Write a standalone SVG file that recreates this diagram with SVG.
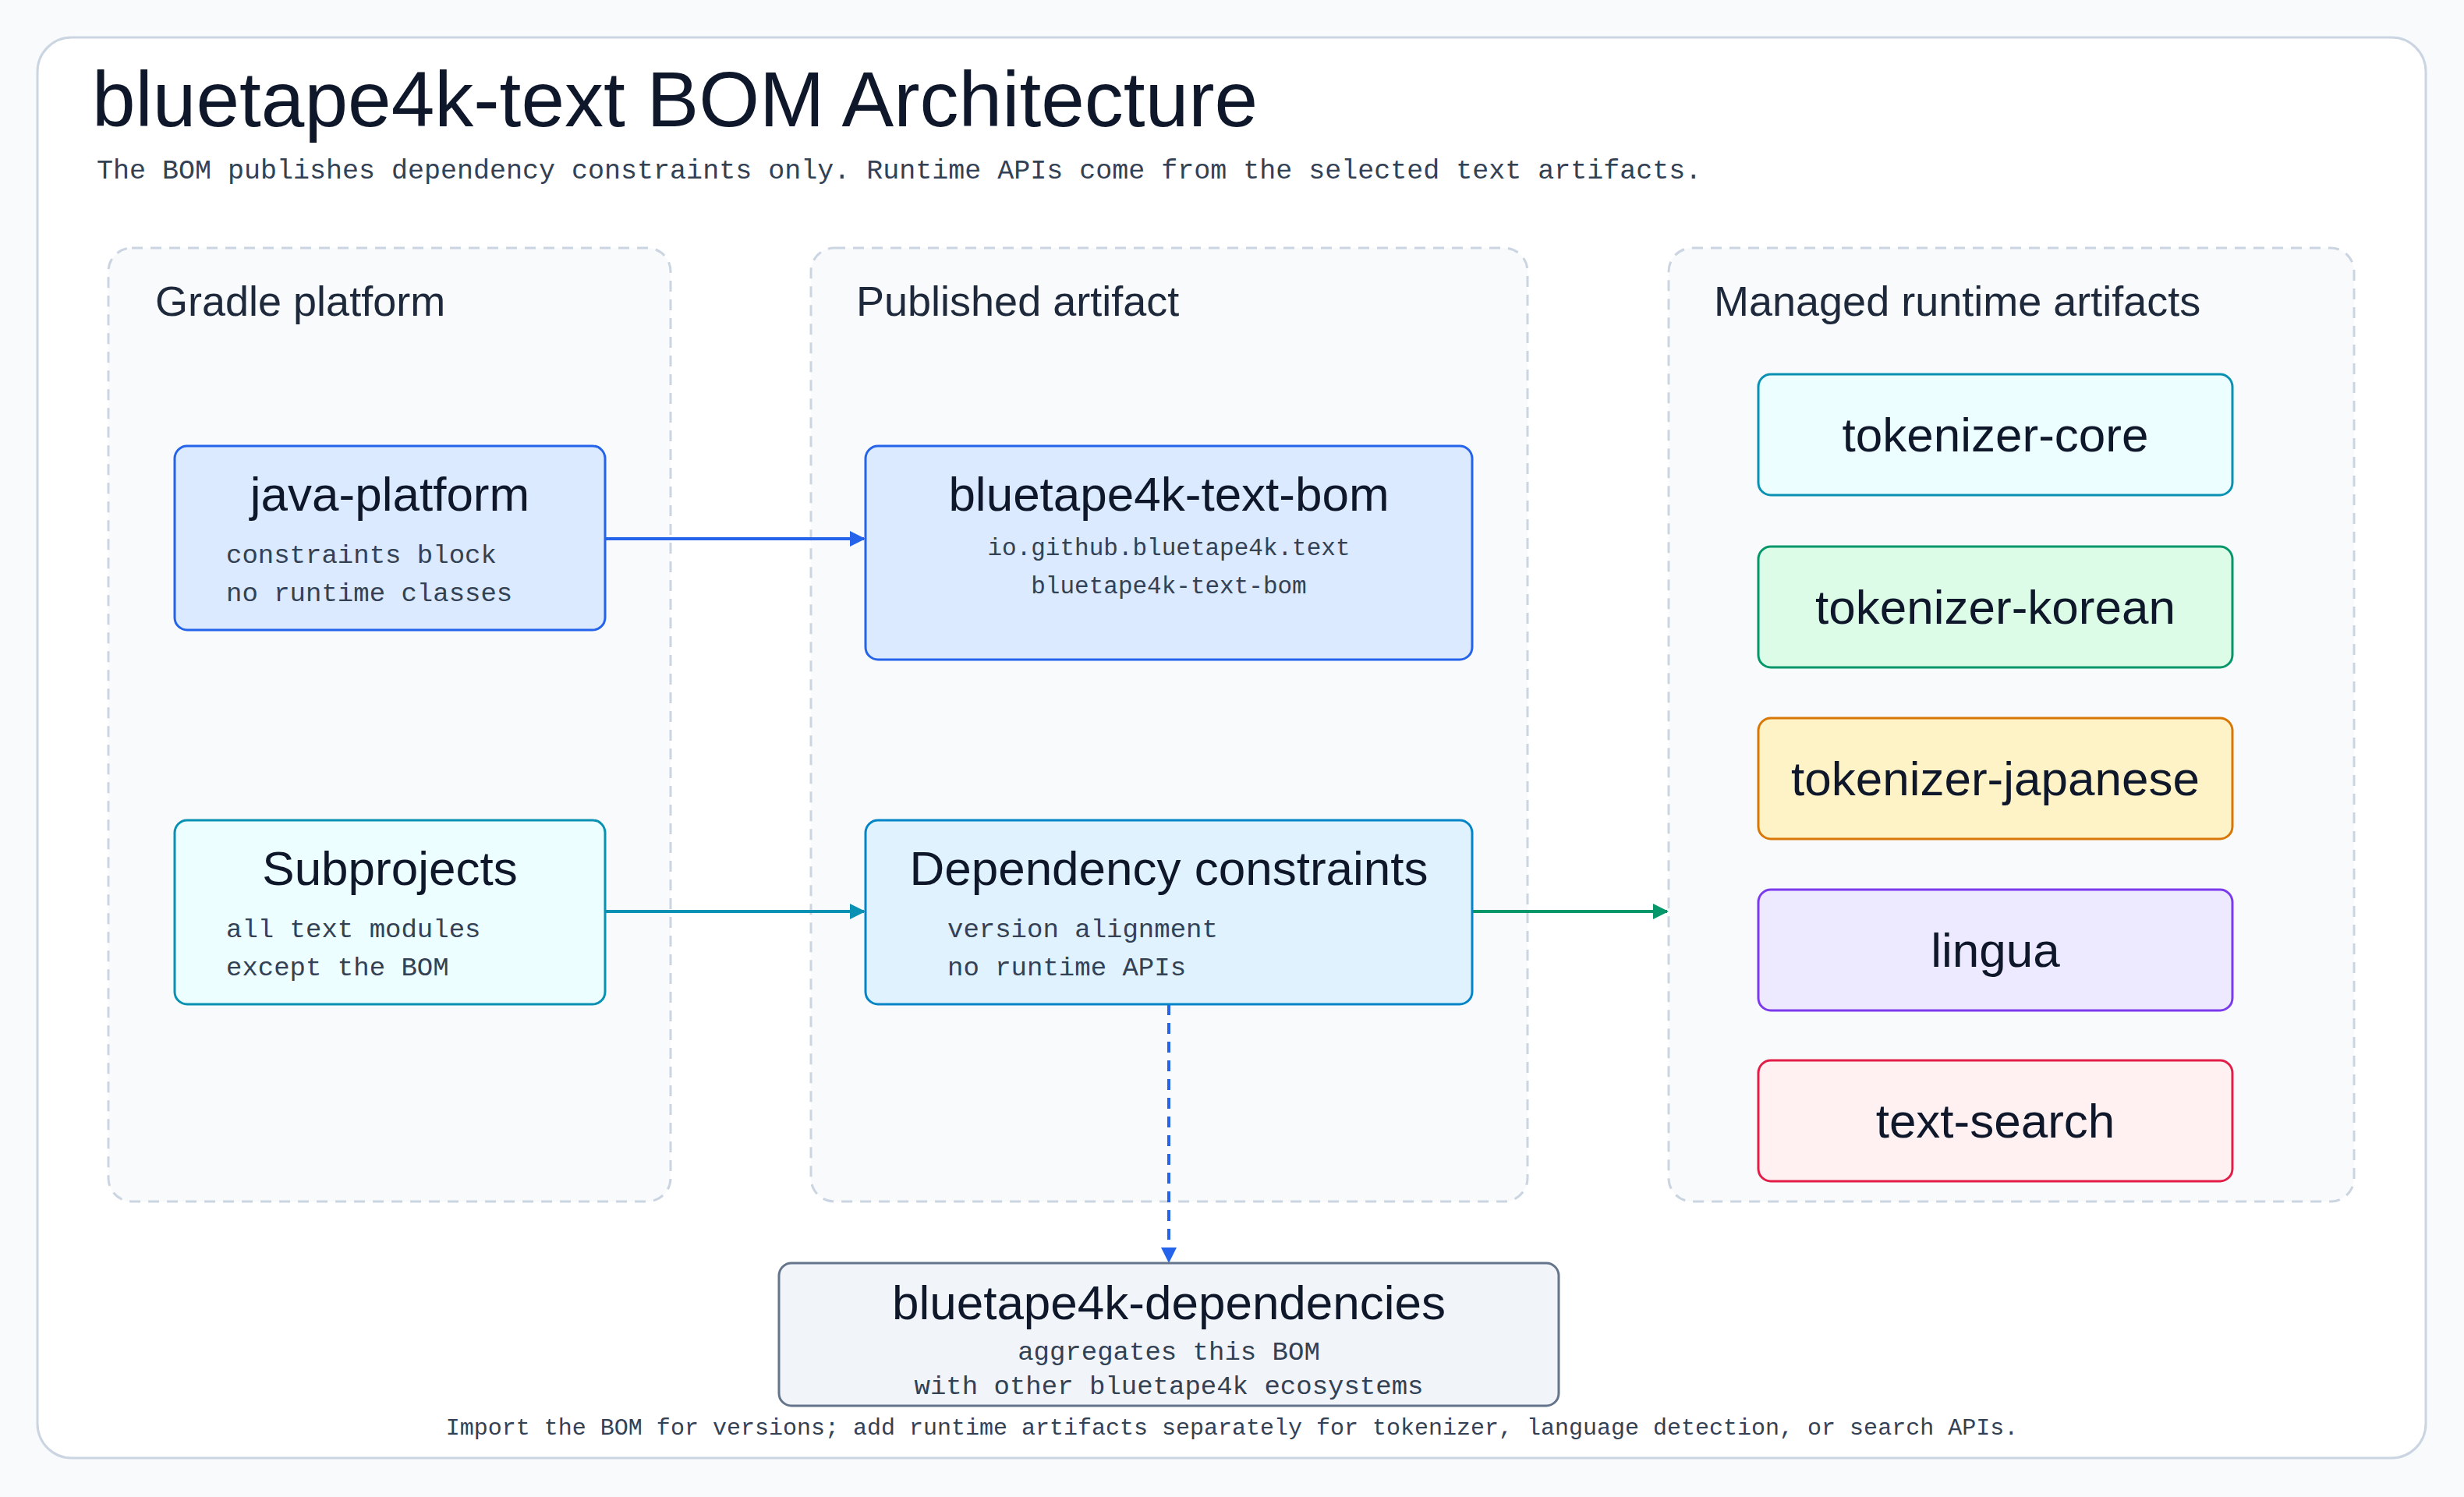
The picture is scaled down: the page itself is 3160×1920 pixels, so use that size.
<svg xmlns="http://www.w3.org/2000/svg" width="3160" height="1920" viewBox="0 0 3160 1920">
<style>
.h{font-family:"Liberation Sans","DejaVu Sans",sans-serif;fill:#0f172a}
.m{font-family:"Liberation Mono","DejaVu Sans Mono",monospace;fill:#334155}
.grp{fill:#f8fafc;stroke:#cbd5e1;stroke-width:3;stroke-dasharray:14 10}
.gt{font-family:"Liberation Sans","DejaVu Sans",sans-serif;font-size:54px;fill:#1e293b}
.nt{font-size:62px;text-anchor:middle}
.ns{font-size:34px}
.e{fill:none;stroke-width:4}
</style>
<defs>
<marker id="ab" viewBox="0 0 10 10" refX="9" refY="5" markerWidth="5" markerHeight="5" orient="auto"><path d="M0 0L10 5L0 10z" fill="#2563eb"/></marker>
<marker id="at" viewBox="0 0 10 10" refX="9" refY="5" markerWidth="5" markerHeight="5" orient="auto"><path d="M0 0L10 5L0 10z" fill="#0891b2"/></marker>
<marker id="ag" viewBox="0 0 10 10" refX="9" refY="5" markerWidth="5" markerHeight="5" orient="auto"><path d="M0 0L10 5L0 10z" fill="#059669"/></marker>
</defs>
<rect width="3160" height="1920" fill="#f8fafc"/>
<rect x="48" y="48" width="3063" height="1822" rx="44" fill="#fff" stroke="#cbd5e1" stroke-width="3"/>
<text x="118" y="162" class="h" font-size="100">bluetape4k-text BOM Architecture</text>
<text x="124" y="229" class="m" font-size="35" fill="#475569">The BOM publishes dependency constraints only. Runtime APIs come from the selected text artifacts.</text>

<g id="group-gradle"><rect class="grp" x="139" y="318" width="721" height="1223" rx="30"/><text class="gt" x="199" y="405">Gradle platform</text></g>
<g id="group-published"><rect class="grp" x="1040" y="318" width="919" height="1223" rx="30"/><text class="gt" x="1098" y="405">Published artifact</text></g>
<g id="group-managed"><rect class="grp" x="2140" y="318" width="879" height="1223" rx="30"/><text class="gt" x="2198" y="405">Managed runtime artifacts</text></g>

<g id="edges">
<path class="e" d="M776 691H1108" stroke="#2563eb" marker-end="url(#ab)"/>
<path class="e" d="M776 1169H1108" stroke="#0891b2" marker-end="url(#at)"/>
<path class="e" d="M1888 1169H2138" stroke="#059669" marker-end="url(#ag)"/>
<path class="e" d="M1499 1288V1618" stroke="#2563eb" stroke-dasharray="14 10" marker-end="url(#ab)"/>
</g>

<g id="java-platform"><rect x="224" y="572" width="552" height="236" rx="16" fill="#dbeafe" stroke="#2563eb" stroke-width="3"/>
<text class="h nt" x="500" y="655">java-platform</text>
<text class="m ns" x="290" y="722">constraints block</text><text class="m ns" x="290" y="771">no runtime classes</text></g>

<g id="subprojects"><rect x="224" y="1052" width="552" height="236" rx="16" fill="#ecfeff" stroke="#0891b2" stroke-width="3"/>
<text class="h nt" x="500" y="1135">Subprojects</text>
<text class="m ns" x="290" y="1202">all text modules</text><text class="m ns" x="290" y="1251">except the BOM</text></g>

<g id="bom"><rect x="1110" y="572" width="778" height="274" rx="16" fill="#dbeafe" stroke="#2563eb" stroke-width="3"/>
<text class="h nt" x="1499" y="655">bluetape4k-text-bom</text>
<text class="m" font-size="31" fill="#6b7280" text-anchor="middle" x="1499" y="712">io.github.bluetape4k.text</text>
<text class="m" font-size="31" fill="#6b7280" text-anchor="middle" x="1499" y="761">bluetape4k-text-bom</text></g>

<g id="constraints"><rect x="1110" y="1052" width="778" height="236" rx="16" fill="#e0f2fe" stroke="#0284c7" stroke-width="3"/>
<text class="h nt" x="1499" y="1135">Dependency constraints</text>
<text class="m ns" x="1215" y="1202">version alignment</text><text class="m ns" x="1215" y="1251">no runtime APIs</text></g>

<g id="dependencies"><rect x="999" y="1620" width="1000" height="183" rx="16" fill="#f1f5f9" stroke="#64748b" stroke-width="3"/>
<text class="h nt" x="1499" y="1692">bluetape4k-dependencies</text>
<text class="m ns" text-anchor="middle" x="1499" y="1744">aggregates this BOM</text>
<text class="m ns" text-anchor="middle" x="1499" y="1788">with other bluetape4k ecosystems</text></g>

<g id="tokenizer-core"><rect x="2255" y="480" width="608" height="155" rx="16" fill="#ecfeff" stroke="#0891b2" stroke-width="3"/><text class="h nt" x="2559" y="579">tokenizer-core</text></g>
<g id="tokenizer-korean"><rect x="2255" y="701" width="608" height="155" rx="16" fill="#dcfce7" stroke="#059669" stroke-width="3"/><text class="h nt" x="2559" y="800">tokenizer-korean</text></g>
<g id="tokenizer-japanese"><rect x="2255" y="921" width="608" height="155" rx="16" fill="#fef3c7" stroke="#d97706" stroke-width="3"/><text class="h nt" x="2559" y="1020">tokenizer-japanese</text></g>
<g id="lingua"><rect x="2255" y="1141" width="608" height="155" rx="16" fill="#ede9fe" stroke="#7c3aed" stroke-width="3"/><text class="h nt" x="2559" y="1240">lingua</text></g>
<g id="text-search"><rect x="2255" y="1360" width="608" height="155" rx="16" fill="#fff1f2" stroke="#e11d48" stroke-width="3"/><text class="h nt" x="2559" y="1459">text-search</text></g>

<text class="m" font-size="30" text-anchor="middle" x="1580" y="1840">Import the BOM for versions; add runtime artifacts separately for tokenizer, language detection, or search APIs.</text>
</svg>
